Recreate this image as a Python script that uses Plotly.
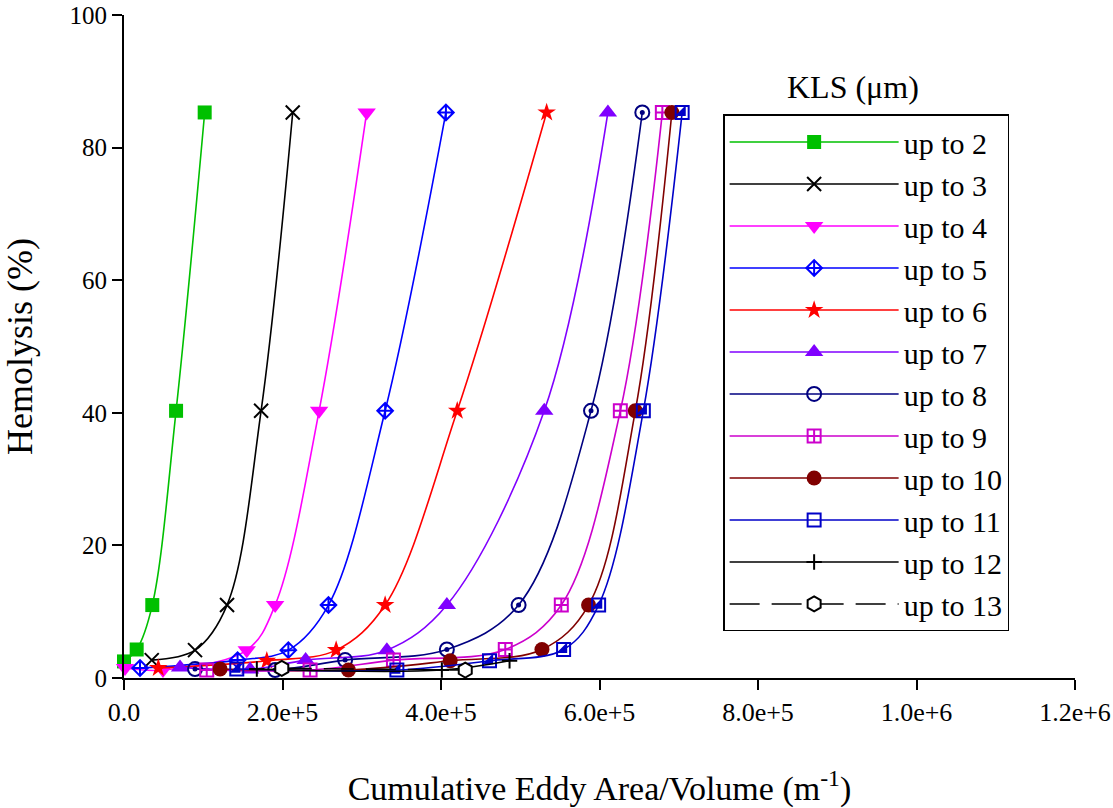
import plotly.graph_objects as go

# ---------------- data ----------------
series_names = ["up to 2", "up to 3", "up to 4", "up to 5", "up to 6", "up to 7",
                "up to 8", "up to 9", "up to 10", "up to 11", "up to 12", "up to 13"]

x_2 = [0, 16000, 35700, 65700, 101800]
y_2 = [2.5, 4.3, 11.0, 40.3, 85.3]
x_3 = [35000, 89600, 130000, 173000, 212900]
y_3 = [2.7, 4.2, 11.0, 40.3, 85.3]
x_4 = [1300, 49200, 154900, 190700, 246200, 306200]
y_4 = [1.5, 1.2, 4.2, 11.0, 40.3, 85.3]
x_5 = [20200, 143300, 207400, 258000, 329500, 406200]
y_5 = [1.5, 2.7, 4.2, 11.0, 40.3, 85.3]
x_6 = [43300, 180200, 267700, 329500, 420500, 533300]
y_6 = [1.5, 2.6, 4.2, 11.0, 40.3, 85.3]
x_7 = [70700, 159100, 229200, 331700, 407400, 530300, 610600]
y_7 = [1.6, 1.3, 2.7, 4.2, 11.0, 40.3, 85.3]
x_8 = [89600, 190700, 279000, 407400, 497900, 589300, 654000]
y_8 = [1.35, 1.2, 2.7, 4.3, 11.0, 40.3, 85.3]
x_9 = [104400, 234800, 340000, 481100, 551800, 626300, 679300]
y_9 = [1.2, 1.2, 2.7, 4.3, 11.0, 40.3, 85.3]
x_10 = [121200, 283200, 411600, 527400, 586200, 645200, 691300]
y_10 = [1.35, 1.2, 2.6, 4.3, 11.0, 40.3, 85.3]
x_11 = [142300, 344300, 461200, 554700, 598900, 655300, 704300]
y_11 = [1.35, 1.2, 2.6, 4.3, 11.0, 40.3, 85.3]
x_12 = [167600, 401100, 486500]
y_12 = [1.35, 1.2, 2.6]
x_13 = [199100, 430600]
y_13 = [1.45, 1.2]

x_tick_vals = [0, 200000, 400000, 600000, 800000, 1000000, 1200000]
x_tick_text = ["0.0", "2.0e+5", "4.0e+5", "6.0e+5", "8.0e+5", "1.0e+6", "1.2e+6"]
y_tick_vals = [0, 20, 40, 60, 80, 100]

# ---------------- styles ----------------
FONT = "Liberation Serif, Times New Roman, serif"
styles = [
    dict(color="#00C000", symbol="square", size=14, fill="#00C000", dash="solid"),
    dict(color="#000000", symbol="x-thin-open", size=14, fill="#000000", dash="solid"),
    dict(color="#FF00FF", symbol="triangle-down", size=16, fill="#FF00FF", dash="solid"),
    dict(color="#0000FF", symbol="diamond-cross-open", size=12, fill="#0000FF", dash="solid"),
    dict(color="#FF0000", symbol="star", size=14, fill="#FF0000", dash="solid"),
    dict(color="#8000FF", symbol="triangle-up", size=16, fill="#8000FF", dash="solid"),
    dict(color="#000080", symbol="circle-open", size=14, fill="#000080", dash="solid"),
    dict(color="#CC00CC", symbol="square-cross-open", size=13, fill="#CC00CC", dash="solid"),
    dict(color="#800000", symbol="circle", size=15, fill="#800000", dash="solid"),
    dict(color="#0000C8", symbol="square-open", size=13, fill="#0000C8", dash="solid"),
    dict(color="#000000", symbol="cross-thin-open", size=11, fill="#000000", dash="solid"),
    dict(color="#000000", symbol="hexagon", size=15, fill="#FFFFFF", dash="30px,12px"),
]

xs = [x_2, x_3, x_4, x_5, x_6, x_7, x_8, x_9, x_10, x_11, x_12, x_13]
ys = [y_2, y_3, y_4, y_5, y_6, y_7, y_8, y_9, y_10, y_11, y_12, y_13]

fig = go.Figure()
for name, x, y, st in zip(series_names, xs, ys, styles):
    open_sym = st["symbol"].endswith("open")
    marker = dict(symbol=st["symbol"], size=st["size"], color=st["fill"],
                  line=dict(color=st["color"], width=2 if open_sym or st["symbol"] == "hexagon" else 0))
    fig.add_trace(go.Scatter(
        x=x, y=y, name=name, mode="lines+markers",
        line=dict(color=st["color"], width=1.6, shape="spline", dash=st["dash"]),
        marker=marker, cliponaxis=False,
    ))
    if name == "up to 8":
        # centre dot of the ring marker
        fig.add_trace(go.Scatter(
            x=x, y=y, mode="markers", showlegend=False, hoverinfo="skip",
            marker=dict(symbol="circle", size=5, color=st["color"], line=dict(width=0)),
            cliponaxis=False,
        ))
    if name == "up to 11":
        # filled lower-right half of the square marker
        fig.add_trace(go.Scatter(
            x=x, y=y, mode="markers", showlegend=False, hoverinfo="skip",
            marker=dict(symbol="triangle-se", size=12, color=st["color"], line=dict(width=0)),
            cliponaxis=False,
        ))

fig.update_layout(
    width=1113, height=808,
    margin=dict(l=124, r=38, t=15, b=130, autoexpand=False),
    paper_bgcolor="white", plot_bgcolor="white",
    font=dict(family=FONT, color="black", size=26),
    showlegend=True,
    legend=dict(
        x=0.630, y=0.85, xanchor="left", yanchor="top",
        bgcolor="white", bordercolor="black", borderwidth=1.5,
        font=dict(family=FONT, size=30, color="black"),
        itemwidth=169,
    ),
    annotations=[dict(
        text="KLS (\u03bcm)", x=0.767, y=0.892, xref="paper", yref="paper",
        showarrow=False, font=dict(family=FONT, size=32, color="black"),
        xanchor="center", yanchor="middle",
    )],
)

fig.update_xaxes(
    range=[0, 1200000], tickvals=x_tick_vals, ticktext=x_tick_text,
    showline=True, linecolor="black", linewidth=2, mirror=False,
    ticks="outside", ticklen=10, tickwidth=2, tickcolor="black",
    showgrid=False, zeroline=False, automargin=False,
    ticklabeloverflow="allow",
    tickfont=dict(family=FONT, size=26),
    title=dict(text="Cumulative Eddy Area/Volume (m<sup>-1</sup>)",
               font=dict(family=FONT, size=34), standoff=50),
)
fig.update_yaxes(
    range=[0, 100], tickvals=y_tick_vals,
    showline=True, linecolor="black", linewidth=2, mirror=False,
    ticks="outside", ticklen=10, tickwidth=2, tickcolor="black",
    showgrid=False, zeroline=False, automargin=False,
    ticklabeloverflow="allow",
    tickfont=dict(family=FONT, size=25),
    title=dict(text="Hemolysis (%)", font=dict(family=FONT, size=36), standoff=34),
)

fig.write_html("out.html")
